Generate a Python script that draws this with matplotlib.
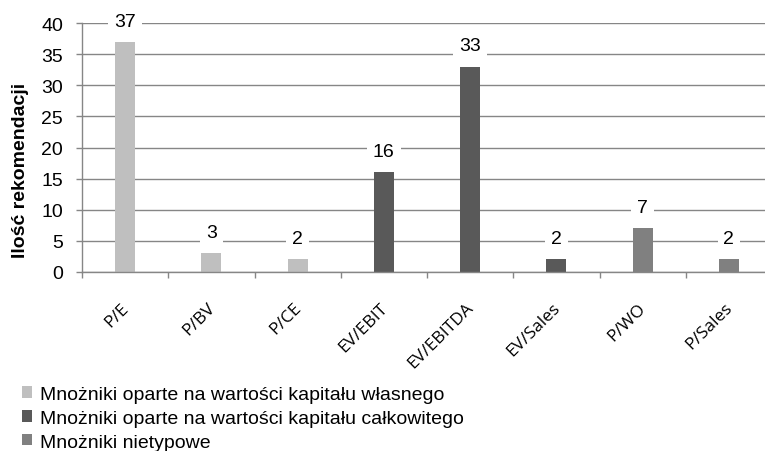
import matplotlib
matplotlib.use("Agg")
import matplotlib.pyplot as plt
from matplotlib.patches import Patch
import matplotlib.transforms as mtransforms

categories = ["P/E", "P/BV", "P/CE", "EV/EBIT", "EV/EBITDA", "EV/Sales", "P/WO", "P/Sales"]
values = [37, 3, 2, 16, 33, 2, 7, 2]
groups = [0, 0, 0, 1, 1, 1, 2, 2]
group_names = ["Mnożniki oparte na wartości kapitału własnego",
               "Mnożniki oparte na wartości kapitału całkowitego",
               "Mnożniki nietypowe"]
group_colors = ["#bfbfbf", "#595959", "#808080"]
yticks = [0, 5, 10, 15, 20, 25, 30, 35, 40]
ylabel = "Ilość rekomendacji"

plt.rcParams['font.family'] = ['Liberation Sans', 'DejaVu Sans']

W, H = 765, 452
fig = plt.figure(figsize=(W / 100, H / 100), dpi=100)
ax = fig.add_axes([82 / W, 1 - 272.7 / H, 690 / W, (272.7 - 24.3) / H])

gray = "#868686"
xs = [i + 0.5 for i in range(len(categories))]
colors = [group_colors[g] for g in groups]
ax.bar(xs, values, width=0.232, color=colors, zorder=2)

ax.set_xlim(0, len(categories))
ax.set_ylim(yticks[0], yticks[-1])
ax.set_yticks(yticks)
ax.yaxis.grid(True, color=gray, linewidth=1.0, zorder=0)
ax.set_axisbelow(True)

for s in ["top", "right"]:
    ax.spines[s].set_visible(False)
for s in ["left", "bottom"]:
    ax.spines[s].set_color(gray)
    ax.spines[s].set_linewidth(1.0)

ax.tick_params(axis="y", length=4.5, width=1.0, color=gray, labelsize=14, pad=9, labelcolor="black")

# category boundaries as minor ticks, labels at centers
ax.set_xticks(range(len(categories) + 1), minor=True)
ax.set_xticks(xs)
ax.tick_params(axis="x", which="minor", length=4, width=1.0, color=gray)
ax.tick_params(axis="x", which="major", length=0, pad=24)
ax.set_xticklabels(categories, rotation=45, ha="right", va="center",
                   rotation_mode="anchor", fontsize=12.5, family="Open Sans")
offset = mtransforms.ScaledTranslation(1 / 100, 0, fig.dpi_scale_trans)
for lab in ax.get_xticklabels():
    lab.set_transform(lab.get_transform() + offset)

for x, v in zip(xs, values):
    ax.annotate(str(v), (x, v), xytext=(0, 15), textcoords="offset points",
                ha="center", va="center", fontsize=14,
                bbox=dict(boxstyle="square,pad=0.3", fc="white", ec="none"),
                zorder=5)

fig.text(21 / W, 1 - 170 / H, ylabel, rotation=90, ha="center", va="center",
         fontsize=14, fontweight="bold")

handles = [Patch(facecolor=c, edgecolor="none") for c in group_colors]
fig.legend(handles, group_names, loc="upper left",
           bbox_to_anchor=(22 / W, 1 - 387 / H), frameon=False, fontsize=14,
           handlelength=0.52, handleheight=0.52, handletextpad=0.4,
           labelspacing=0.35, borderpad=0, borderaxespad=0)

fig.savefig("out.png", dpi=100)
